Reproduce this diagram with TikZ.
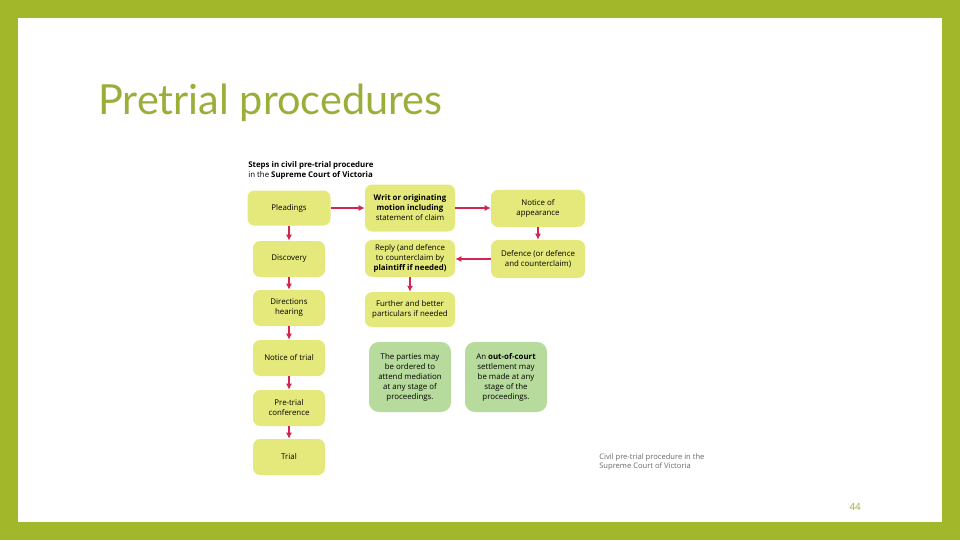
\documentclass[tikz,border=0pt]{standalone}
\usepackage{fontspec}
\setmainfont{Open Sans}
\newfontfamily\titlefont{Lato}
\usetikzlibrary{arrows.meta,positioning}
\definecolor{slideframe}{HTML}{A2B82A}
\definecolor{titlegreen}{HTML}{9AAF3A}
\definecolor{boxyellow}{HTML}{E5E97B}
\definecolor{boxgreen}{HTML}{B7DA9D}
\definecolor{arrowred}{HTML}{D3264F}
\definecolor{captiongrey}{HTML}{6A6A6A}

\begin{document}
\begin{tikzpicture}[
  stage/.style={rectangle, fill=#1, minimum width=1.8cm, minimum height=0.9cm, align=center, font=\fontsize{5.6}{7.1}\selectfont, rounded corners=5pt, inner sep=1pt},
  note/.style={stage=boxgreen, minimum width=2.05cm, minimum height=1.75cm, rounded corners=7pt},
  arr/.style={-{Latex[length=1.5mm,width=1.5mm]}, line width=0.8pt, arrowred}
]
  % slide background
  \fill[slideframe] (0,0) rectangle (24,13.5);
  \fill[white] (0.45,0.45) rectangle (23.55,13.05);
  \useasboundingbox (0,0) rectangle (24,13.5);

  \node[anchor=base west, inner sep=0, text=titlegreen, font=\titlefont\fontsize{29.5}{31}\selectfont] (title) at (2.45,10.625) {Pretrial procedures};
  \node[anchor=north west, inner sep=0, align=left, font=\fontsize{5.6}{6.8}\selectfont] (head) at (6.2,9.47) {\textbf{Steps in civil pre-trial procedure}\\in the \textbf{Supreme Court of Victoria}};

  % left column
  \node[stage=boxyellow, minimum width=2.075cm, minimum height=0.875cm] (p1) at (7.225,8.3) {Pleadings};
  \node[stage=boxyellow] (p2) at (7.225,7.025) {Discovery};
  \node[stage=boxyellow] (p3) at (7.225,5.8) {Directions\\hearing};
  \node[stage=boxyellow] (p4) at (7.225,4.55) {Notice of trial};
  \node[stage=boxyellow] (p5) at (7.225,3.3) {Pre-trial\\conference};
  \node[stage=boxyellow] (p6) at (7.225,2.075) {Trial};

  % middle and right columns
  \node[stage=boxyellow, minimum width=2.25cm, minimum height=1.175cm] (w1) at (10.25,8.3) {\textbf{Writ or originating}\\\textbf{motion including}\\statement of claim};
  \node[stage=boxyellow, minimum width=2.25cm, minimum height=0.925cm] (w2) at (10.25,7.04) {Reply (and defence\\to counterclaim by\\\textbf{plaintiff if needed)}};
  \node[stage=boxyellow, minimum width=2.25cm, minimum height=0.875cm] (w3) at (10.25,5.76) {Further and better\\particulars if needed};
  \node[stage=boxyellow, minimum width=2.35cm, minimum height=0.925cm] (n1) at (13.45,8.29) {Notice of\\appearance};
  \node[stage=boxyellow, minimum width=2.35cm, minimum height=0.95cm] (n2) at (13.45,7.025) {Defence (or defence\\and counterclaim)};

  % side notes
  \node[note] (g1) at (10.25,4.075) {The parties may\\be ordered to\\attend mediation\\at any stage of\\proceedings.};
  \node[note] (g2) at (12.65,4.075) {An \textbf{out-of-court}\\settlement may\\be made at any\\stage of the\\proceedings.};

  \draw[arr] (p1) -- (p1 -| w1.west);
  \draw[arr] (w1) -- (w1 -| n1.west);
  \draw[arr] (n1) -- (n2);
  \draw[arr] (n2) -- (n2 -| w2.east);
  \draw[arr] (w2) -- (w3);
  \draw[arr] (p1) -- (p2);
  \draw[arr] (p2) -- (p3);
  \draw[arr] (p3) -- (p4);
  \draw[arr] (p4) -- (p5);
  \draw[arr] (p5) -- (p6);

  \node[anchor=north west, inner sep=0, align=left, text=captiongrey, font=\fontsize{5.4}{6.8}\selectfont] (caption) at (14.975,2.17) {Civil pre-trial procedure in the\\Supreme Court of Victoria};
  \node[inner sep=0, text=titlegreen, font=\fontsize{7}{8}\selectfont] (pagenum) at (21.38,0.83) {44};
\end{tikzpicture}
\end{document}
